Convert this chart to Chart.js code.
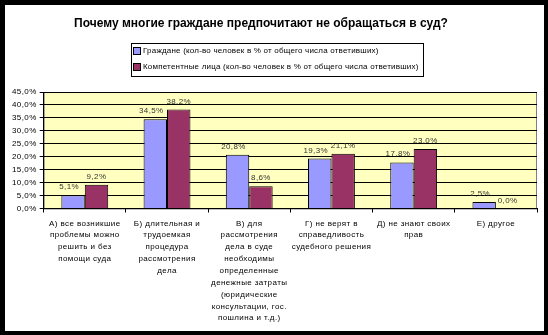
<!DOCTYPE html>
<html>
<head>
<meta charset="utf-8">
<script src="https://cdn.jsdelivr.net/npm/chart.js@4"></script>
<style>
  html, body { margin: 0; padding: 0; background: #000; }
  #frame { position: absolute; left: 5px; top: 5px; width: 539px; height: 326px; background: #fff; }
  canvas { display: block; }
</style>
</head>
<body>
<div id="frame"><canvas id="courtChart" width="539" height="326"></canvas></div>
<script>
const titleText = 'Почему многие граждане предпочитают не обращаться в суд?';
const categories = [
    ['А) все возникшие', 'проблемы можно', 'решить и без', 'помощи суда'],
    ['Б) длительная и', 'трудоемкая', 'процедура', 'рассмотрения', 'дела'],
    ['В) для', 'рассмотрения', 'дела в суде', 'необходимы', 'определенные', 'денежные затраты', '(юридические', 'консультации, гос.', 'пошлина и т.д.)'],
    ['Г) не верят в', 'справедливость', 'судебного решения'],
    ['Д) не знают своих', 'прав'],
    ['Е) другое']
];
const seriesNames = [
    'Граждане (кол-во человек в % от общего числа ответивших)',
    'Компетентные лица (кол-во человек в % от общего числа ответивших)'
];
const citizens = [5.1, 34.5, 20.8, 19.3, 17.8, 2.5];
const experts = [9.2, 38.2, 8.6, 21.1, 23.0, 0.0];
const seriesColors = ['#9999FF', '#993366'];

const fmt = v => v.toFixed(1).replace('.', ',') + '%';
const FONT = '"Liberation Sans", Arial, sans-serif';

const plotBg = {
    id: 'plotBg',
    beforeDraw(chart) {
        const { ctx, chartArea: a } = chart;
        ctx.save();
        ctx.fillStyle = '#FFFFC0';
        ctx.fillRect(a.left, a.top, a.right - a.left, a.bottom - a.top);
        ctx.strokeStyle = '#808080';
        ctx.lineWidth = 1;
        ctx.strokeRect(a.left + 0.5, a.top + 0.5, a.right - a.left - 1, a.bottom - a.top);
        ctx.restore();
        // slightly spaced lettering, like the original
        ctx.letterSpacing = '0.4px';
    }
};

const headerAndLabels = {
    id: 'headerAndLabels',
    afterDatasetsDraw(chart) {
        const ctx = chart.ctx;
        ctx.save();
        // title
        ctx.letterSpacing = '0px';
        ctx.font = 'bold 12px ' + FONT;
        ctx.fillStyle = '#000';
        ctx.textAlign = 'center';
        ctx.textBaseline = 'middle';
        ctx.fillText(titleText, 256, 19);
        // legend box
        ctx.strokeStyle = '#000';
        ctx.lineWidth = 1;
        ctx.strokeRect(126.5, 38.5, 292, 33);
        ctx.font = '8px ' + FONT;
        ctx.letterSpacing = '0.2px';
        ctx.textAlign = 'left';
        seriesNames.forEach((name, i) => {
            const y = 46 + i * 16;
            ctx.fillStyle = seriesColors[i];
            ctx.fillRect(129, y - 3, 6, 6);
            ctx.strokeRect(128.5, y - 3.5, 7, 7);
            ctx.fillStyle = '#000';
            ctx.fillText(name, 138, y);
        });
        // value labels
        ctx.letterSpacing = '0.4px';
        ctx.textAlign = 'center';
        ctx.textBaseline = 'alphabetic';
        ctx.fillStyle = '#333';
        chart.data.datasets.forEach((ds, di) => {
            chart.getDatasetMeta(di).data.forEach((bar, i) => {
                const dx = di === 0 ? -4 : 0;
                ctx.fillText(fmt(ds.data[i]), bar.x + dx, bar.y - 6);
            });
        });
        ctx.restore();
    }
};

const ctx = document.getElementById('courtChart').getContext('2d');
new Chart(ctx, {
    type: 'bar',
    data: {
        labels: categories,
        datasets: [
            { label: seriesNames[0], data: citizens, backgroundColor: seriesColors[0] },
            { label: seriesNames[1], data: experts, backgroundColor: seriesColors[1] }
        ]
    },
    options: {
        responsive: false,
        animation: false,
        devicePixelRatio: 1,
        layout: { padding: { top: 87, right: 7, bottom: 6, left: 6 } },
        datasets: {
            bar: {
                borderColor: '#000',
                borderWidth: 1,
                borderSkipped: 'bottom',
                categoryPercentage: 0.57,
                barPercentage: 1
            }
        },
        plugins: {
            legend: { display: false },
            title: { display: false },
            tooltip: { enabled: false }
        },
        scales: {
            x: {
                grid: { offset: true, drawOnChartArea: false, tickLength: 4, color: '#000' },
                border: { color: '#000' },
                ticks: {
                    color: '#000',
                    maxRotation: 0,
                    autoSkip: false,
                    padding: 5,
                    font: { family: FONT, size: 8, lineHeight: 1.48 }
                }
            },
            y: {
                min: 0,
                max: 45,
                grid: { color: '#000', tickLength: 4 },
                border: { color: '#000' },
                ticks: {
                    stepSize: 5,
                    autoSkip: false,
                    color: '#000',
                    padding: 3,
                    font: { family: FONT, size: 8 },
                    callback: v => fmt(v)
                }
            }
        }
    },
    plugins: [plotBg, headerAndLabels]
});
</script>
</body>
</html>
